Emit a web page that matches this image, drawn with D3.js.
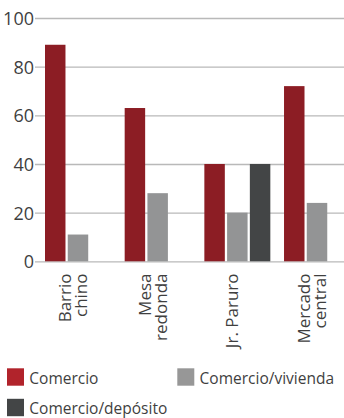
<!DOCTYPE html>
<html>
<head>
<meta charset="utf-8">
<script src="https://cdn.jsdelivr.net/npm/d3@7"></script>
<style>
  html, body { margin: 0; padding: 0; background: #fff; }
  svg { display: block; }
  text { font-family: "Open Sans", sans-serif; }
</style>
</head>
<body>
<div id="chart"></div>
<script>
// ---- data ----
const categories = [["Barrio", "chino"], ["Mesa", "redonda"], ["Jr. Paruro"], ["Mercado", "central"]];
const seriesNames = ["Comercio", "Comercio/vivienda", "Comercio/depósito"];
const comercio = [89, 63, 40, 72];
const comercioVivienda = [11, 28, 20, 24];
const comercioDeposito = [null, null, 40, null];
const yTicks = [0, 20, 40, 60, 80, 100];

const barColors = ["#8c1d24", "#939495", "#434546"];
const legendColors = ["#b1232b", "#979797", "#434546"];

const W = 344, H = 418;
const svg = d3.select("#chart").append("svg").attr("width", W).attr("height", H);

const catKeys = categories.map(c => c.join(" "));
const seriesValues = [comercio, comercioVivienda, comercioDeposito];

const x0 = d3.scaleBand().domain(catKeys).range([45, 350]).paddingInner(0.172).paddingOuter(0);
const x1 = d3.scaleBand().domain(seriesNames).range([0, x0.bandwidth()]).paddingInner(0.1).paddingOuter(0);
const y = d3.scaleLinear().domain([0, 100]).range([261.3, 18]);

// gridlines
const yAxis = d3.axisLeft(y).tickValues(yTicks).tickSize(-(W - 35)).tickPadding(1);
const gAxis = svg.append("g").attr("transform", "translate(35,0)").call(yAxis);
gAxis.select(".domain").remove();
gAxis.selectAll(".tick line").attr("stroke", "#b9b9b9").attr("stroke-width", 1.3);
gAxis.selectAll(".tick text")
  .attr("fill", "#3f3f3f")
  .style("font-size", "18px")
  .attr("dy", "0.36em");

// bars
const rows = [];
catKeys.forEach((c, i) => {
  seriesNames.forEach((s, j) => {
    const v = seriesValues[j][i];
    if (v != null) rows.push({ c, s, v, j });
  });
});
svg.append("g").selectAll("rect").data(rows).join("rect")
  .attr("x", d => x0(d.c) + x1(d.s))
  .attr("y", d => y(d.v))
  .attr("width", x1.bandwidth())
  .attr("height", d => y(0) - y(d.v))
  .attr("fill", d => barColors[d.j]);

// category labels (rotated)
const labelTop = 273.5;
categories.forEach((lines, i) => {
  const cx = x0(catKeys[i]) + x0.bandwidth() / 2 + 1;
  const n = lines.length;
  lines.forEach((ln, k) => {
    const bx = cx - (n - 1) * 8 + k * 16;
    svg.append("text")
      .attr("transform", `translate(${bx},${labelTop}) rotate(-90)`)
      .attr("text-anchor", "end")
      .attr("fill", "#3f3f3f")
      .style("font-size", "17px")
      .text(ln);
  });
});

// legend
const legendItems = [
  { name: seriesNames[0], color: legendColors[0], x: 7, y: 368.3 },
  { name: seriesNames[1], color: legendColors[1], x: 177.3, y: 368.3 },
  { name: seriesNames[2], color: legendColors[2], x: 7, y: 398.8 }
];
const lg = svg.append("g").selectAll("g").data(legendItems).join("g")
  .attr("transform", d => `translate(${d.x},${d.y})`);
lg.append("rect").attr("width", 17).attr("height", 17.4).attr("fill", d => d.color);
lg.append("text").attr("x", 22.3).attr("y", 15.2)
  .attr("fill", "#3f3f3f")
  .style("font-size", "15.5px")
  .text(d => d.name);
</script>
</body>
</html>
